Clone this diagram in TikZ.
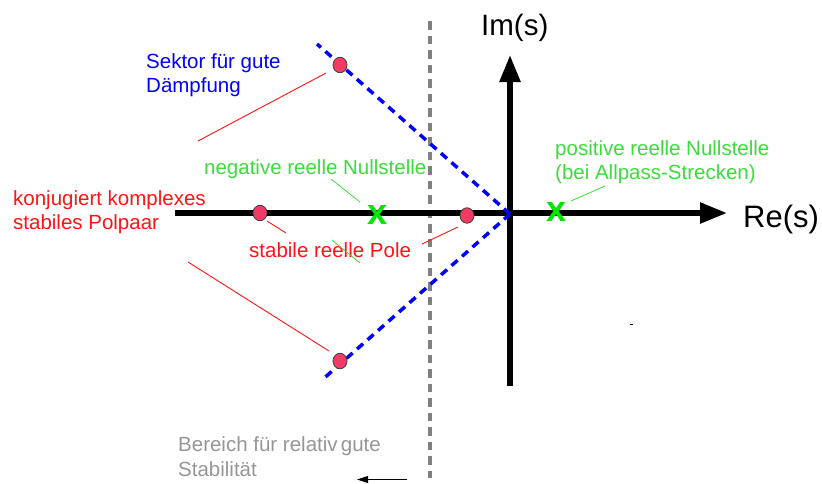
\documentclass[tikz,border=0pt]{standalone}
\usepackage{fontspec}
\setmainfont{Liberation Sans}
\usetikzlibrary{arrows.meta,shapes.geometric}
\definecolor{polefill}{RGB}{240,60,100}
\definecolor{lblgreen}{RGB}{60,220,60}
\definecolor{xgreen}{RGB}{0,230,0}
\definecolor{lblred}{RGB}{255,20,20}
\definecolor{lblgray}{RGB}{150,150,150}
\definecolor{dashgray}{RGB}{128,128,128}
\tikzset{
  lbl/.style={inner sep=0pt, anchor=base west, align=left, font=\fontsize{20.5}{24.5}\selectfont},
  axis/.style={line width=5.5pt, -{Triangle[length=27pt,width=20pt]}},
  sector/.style={blue, line width=3.5pt, dash pattern=on 8pt off 6pt},
  pole/.style={draw=black!75, fill=polefill, line width=0.8pt, ellipse, minimum width=14pt, minimum height=15.5pt, inner sep=0pt},
  zero/.style={text=xgreen, inner sep=0pt, font=\fontsize{36}{36}\selectfont\bfseries},
  redlead/.style={lblred, line width=0.9pt},
  greenlead/.style={lblgreen, line width=0.8pt},
}
\begin{document}
\begin{tikzpicture}[x=1pt,y=-1pt]
\useasboundingbox (0,0) rectangle (822,483);
% gray stability boundary
\coordinate (gtop) at (430,21);
\coordinate (gbot) at (430,478);
\draw[dashgray, line width=4pt, dash pattern=on 8.5pt off 6pt] (gtop) -- (gbot);
% axes
\coordinate (xl) at (175,213);
\coordinate (xr) at (727,213);
\coordinate (yb) at (510,386);
\coordinate (yt) at (510,55);
\draw[axis] (xl) -- (xr);
\draw[axis] (yb) -- (yt);
\node[anchor=base west, inner sep=0pt, font=\fontsize{31}{31}\selectfont] (re) at (743,227.7) {Re(s)};
\node[anchor=base west, inner sep=0pt, font=\fontsize{29.5}{30}\selectfont] (im) at (481,35.7) {Im(s)};
% sector lines
\coordinate (st) at (317,44);
\coordinate (o) at (510,214);
\coordinate (sb) at (322,380);
\draw[sector] (o) -- (st);
\draw[sector] (o) -- (sb);
% poles
\node[pole] (p1) at (340,65) {};
\node[pole] (p2) at (260,213) {};
\node[pole] (p3) at (467,215.5) {};
\node[pole] (p4) at (340,361) {};
% zeros
\node[zero] (z1) at (378,215) {x};
\node[zero] (z2) at (557,212) {x};
% labels (base = last line)
\node[lbl, text=blue] (sek) at (146,92.5) {Sektor für gute\\Dämpfung};
\node[lbl, text=lblgreen] (neg) at (204,174) {negative reelle Nullstelle};
\node[lbl, text=lblred] (kon) at (13,229.5) {konjugiert komplexes\\stabiles Polpaar};
\node[lbl, text=lblred] (stp) at (249,257) {stabile reelle Pole};
\node[lbl, text=lblgreen] (pos) at (555,179.5) {positive reelle Nullstelle\\(bei Allpass-Strecken)};
\node[lbl, text=lblgray] (ber) at (178,476) {Bereich für relativ\hspace{-0.12em} gute\\Stabilität};
% red leaders
\coordinate (r1a) at (326,73);  \coordinate (r1b) at (198,141);
\coordinate (r2a) at (329,351); \coordinate (r2b) at (188,262);
\coordinate (r3a) at (267,221); \coordinate (r3b) at (286,233);
\coordinate (r4a) at (458,227); \coordinate (r4b) at (422,244);
\draw[redlead] (r1a) -- (r1b);
\draw[redlead] (r2a) -- (r2b);
\draw[redlead] (r3a) -- (r3b);
\draw[redlead] (r4a) -- (r4b);
% green leaders
\coordinate (g1a) at (331,179); \coordinate (g1b) at (360,202);
\coordinate (g2a) at (332,240); \coordinate (g2b) at (360,263);
\coordinate (g3a) at (571,201); \coordinate (g3b) at (605,186);
\draw[greenlead] (g1a) -- (g1b);
\draw[greenlead] (g2a) -- (g2b);
\draw[greenlead] (g3a) -- (g3b);
% small arrow
\coordinate (aa) at (407,479.5);
\coordinate (ab) at (357,479.5);
\draw[line width=0.9pt, -{Triangle[length=11pt,width=7pt]}] (aa) -- (ab);
% tiny mark
\coordinate (ta) at (629.5,324.5);
\coordinate (tb) at (633,324.5);
\draw[line width=1.2pt] (ta) -- (tb);
\end{tikzpicture}
\end{document}
